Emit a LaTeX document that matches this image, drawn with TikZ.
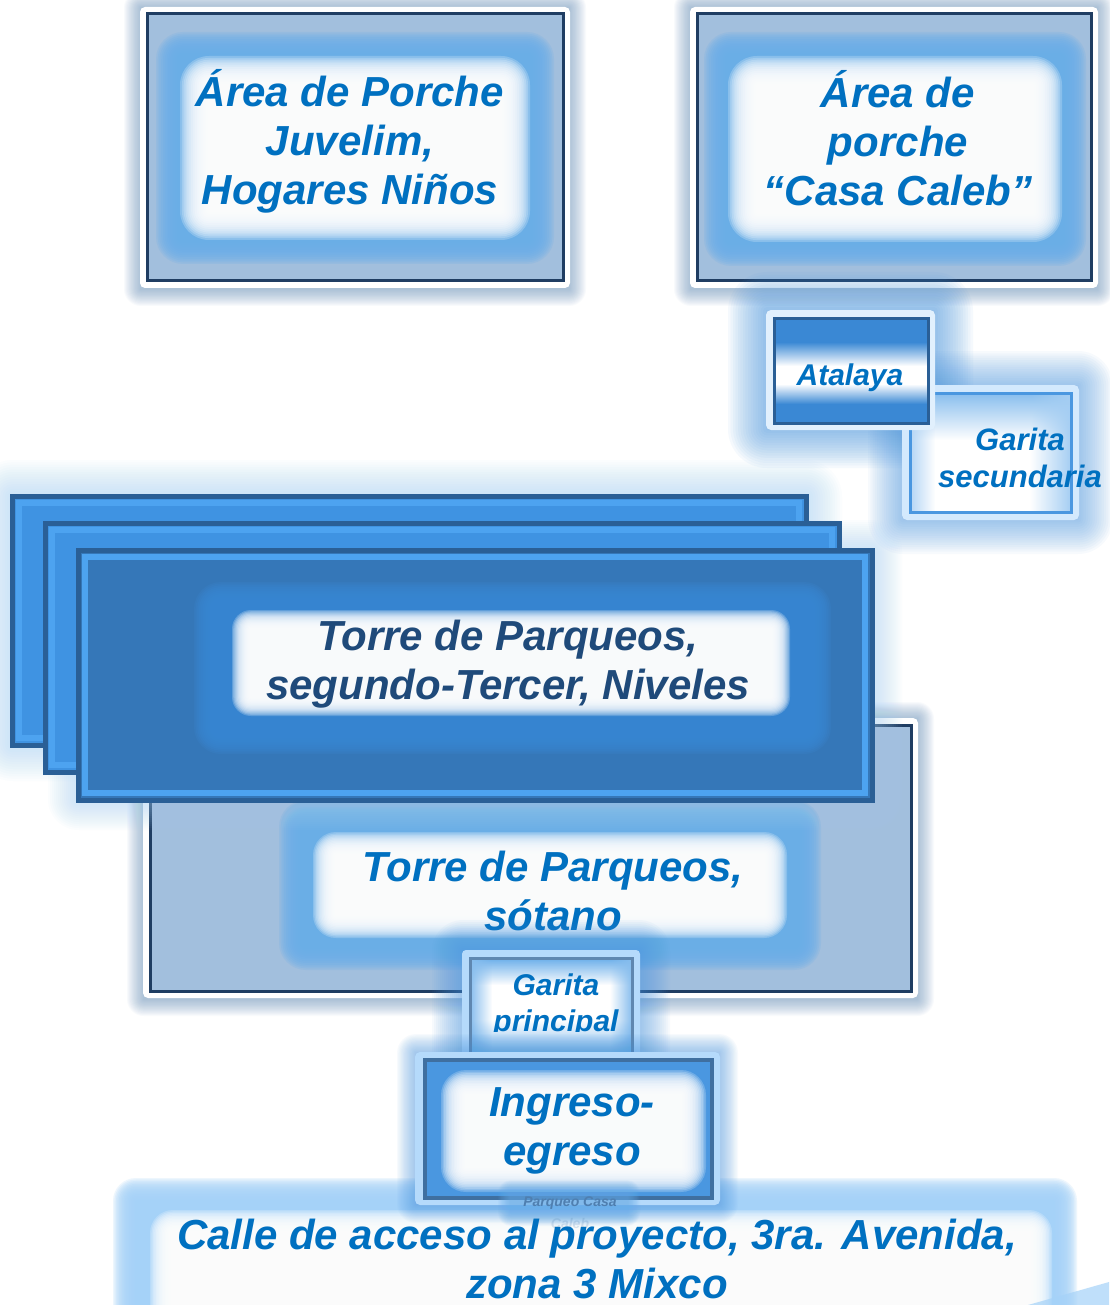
\documentclass[tikz,border=0pt]{standalone}
\usepackage{fontspec}
\setmainfont{Liberation Sans}
\usetikzlibrary{fadings}
\definecolor{txtblue}{HTML}{0070C0}
\definecolor{txtnavy}{HTML}{1F4A7A}
\definecolor{framedark}{HTML}{1F3D62}
\definecolor{steel}{HTML}{A2BFDD}
\definecolor{glowblue}{HTML}{6AAEEA}
\definecolor{midblue}{HTML}{3A88D4}
\definecolor{brightblue}{HTML}{3F93E2}
\definecolor{deepblue}{HTML}{3577B8}
\definecolor{edgeblue}{HTML}{2A5F96}
\definecolor{bevel}{HTML}{4DA3F0}
\definecolor{shadowblue}{HTML}{4F7FB0}
\definecolor{haloblue}{HTML}{4A97E0}
\definecolor{paleblue}{HTML}{A5D2F8}
\definecolor{lightframe}{HTML}{B5DAFB}
% soft rectangle: rings growing outwards from the given rectangle
\newcommand\softrect[7]{%
  \foreach \k in {1,...,16}{%
    \pgfmathsetmacro\dd{#6*(\k-1)/15}%
    \fill[#1, fill opacity=#7, rounded corners=\dd pt+1pt] ({#2-\dd},{#3-\dd}) rectangle ({#4+\dd},{#5+\dd});
  }%
}
% near-solid core with a soft edge
\newcommand\coreglow[6]{%
  \softrect{#1}{#2}{#3}{#4}{#5}{#6}{0.21}%
}
\begin{document}
\begin{tikzpicture}[x=1pt,y=-1pt,
  lbl/.style={font=\fontsize{42}{49}\selectfont\bfseries\itshape, text=txtblue, align=center, inner sep=0pt},
  slbl/.style={font=\fontsize{30}{36}\selectfont\bfseries\itshape, text=txtblue, align=center, inner sep=0pt},
  tiny/.style={font=\fontsize{14}{20}\selectfont\bfseries\itshape, text=shadowblue, align=center, inner sep=0pt}]
\useasboundingbox (0,0) rectangle (1109,1305);
\fill[white] (0,0) rectangle (1109,1305);

% ---------- Box A ----------
\softrect{shadowblue}{140}{7}{570}{290}{16}{0.035}
\fill[white, rounded corners=5] (140,7) rectangle (570,288);
\fill[steel] (147,14) rectangle (563,281);
\begin{scope}
  \clip (147,14) rectangle (563,281);
  \coreglow{glowblue}{182}{58}{528}{238}{26}
  \coreglow{white}{208}{84}{502}{212}{28}
\end{scope}
\draw[framedark, line width=3] (147,14) rectangle (563,281);
\node[lbl] (porcheA) at (350,141) {Área de Porche\\Juvelim,\\Hogares Niños};

% ---------- Box B ----------
\softrect{shadowblue}{690}{7}{1098}{290}{16}{0.035}
\fill[white, rounded corners=5] (690,7) rectangle (1098,288);
\fill[steel] (697,14) rectangle (1091,281);
\begin{scope}
  \clip (697,14) rectangle (1091,281);
  \coreglow{glowblue}{730}{58}{1060}{240}{26}
  \coreglow{white}{756}{84}{1034}{214}{28}
\end{scope}
\draw[framedark, line width=3] (697,14) rectangle (1091,281);
\node[lbl] (porcheB) at (898,138) {Área de\\porche\\“Casa Caleb”};

% ---------- Atalaya / Garita secundaria ----------
\softrect{haloblue}{902}{385}{1079}{520}{34}{0.045}
\softrect{haloblue}{766}{310}{935}{430}{38}{0.05}
\fill[lightframe!60!white, rounded corners=5] (902,385) rectangle (1079,520);
\fill[white] (910,393) rectangle (1071,512);
\begin{scope}
  \clip (910,393) rectangle (1071,512);
  \fill[glowblue!80!white, path fading=south] (910,393) rectangle (1071,440);
  \fill[glowblue!60!white, path fading=west] (1030,393) rectangle (1071,512);
  \fill[glowblue!50!white, path fading=east] (910,393) rectangle (935,512);
\end{scope}
\draw[haloblue, line width=3] (910,393) rectangle (1071,512);
\node[slbl, font=\fontsize{31}{37}\selectfont\bfseries\itshape] (garitasec) at (1020,458) {Garita\\secundaria};

\fill[lightframe!40!white, rounded corners=5] (766,310) rectangle (935,430);
\fill[midblue] (774,318) rectangle (928,423);
\shade[top color=midblue, bottom color=white] (774,342) rectangle (928,366);
\fill[white] (774,366) rectangle (928,384);
\shade[top color=white, bottom color=midblue] (774,384) rectangle (928,404);
\draw[edgeblue, line width=3] (774,318) rectangle (928,423);
\node[slbl] (atalaya) at (850,378) {Atalaya};

% ---------- Sotano ----------
\softrect{shadowblue}{143}{718}{918}{1000}{16}{0.035}
\fill[white, rounded corners=5] (143,718) rectangle (918,998);
\fill[steel] (150,725) rectangle (911,991);
\begin{scope}
  \clip (150,725) rectangle (911,991);
  \coreglow{glowblue}{305}{826}{795}{944}{26}
  \coreglow{white}{335}{854}{765}{916}{22}
\end{scope}
\draw[framedark, line width=3] (150,725) rectangle (911,991);
\node[lbl] (sotano) at (553,891) {Torre de Parqueos,\\sótano};

% ---------- Torre stack ----------
\softrect{paleblue}{12}{496}{806}{745}{36}{0.045}
\softrect{paleblue}{78}{550}{872}{800}{30}{0.04}
\foreach \x/\y in {12/496,45/523}{
  \fill[brightblue] (\x,\y) rectangle ({\x+794},{\y+249});
  \draw[bevel, line width=6] ({\x+7},{\y+7}) rectangle ({\x+787},{\y+242});
  \draw[edgeblue, line width=5] (\x,\y) rectangle ({\x+794},{\y+249});
}
\fill[deepblue] (78,550) rectangle (872,800);
\begin{scope}
  \clip (78,550) rectangle (872,800);
  \coreglow{midblue}{220}{608}{805}{728}{26}
  \coreglow{white}{250}{628}{772}{698}{18}
\end{scope}
\draw[bevel, line width=6] (85,557) rectangle (865,793);
\draw[edgeblue, line width=5] (78,550) rectangle (872,800);
\node[lbl, text=txtnavy] (torre) at (508,664) {Torre de Parqueos,\\segundo-Tercer, Niveles};

% ---------- Garita principal ----------
\softrect{haloblue}{462}{950}{640}{1052}{30}{0.045}
\fill[lightframe, rounded corners=4] (462,950) rectangle (640,1060);
\fill[white] (470,958) rectangle (632,1060);
\begin{scope}
  \clip (470,958) rectangle (632,1060);
  \fill[glowblue, path fading=south] (470,958) rectangle (632,985);
  \fill[glowblue!80!white, path fading=east] (470,958) rectangle (492,1060);
  \fill[glowblue!80!white, path fading=west] (610,958) rectangle (632,1060);
  \fill[glowblue, path fading=north] (470,1020) rectangle (632,1060);
\end{scope}
\draw[edgeblue!75!white, line width=3] (470,1060) -- (470,958) -- (632,958) -- (632,1060);
\begin{scope}
  \clip (462,940) rectangle (640,1031);
  \node[slbl] (garitapri) at (556,1006) {Garita\\principal};
\end{scope}

% ---------- Calle ----------
\softrect{paleblue}{135}{1200}{1055}{1345}{22}{0.2}
\coreglow{white}{172}{1232}{1030}{1345}{22}
\fill[paleblue, opacity=0.7] (1028,1305) -- (1109,1282) -- (1109,1305) -- cycle;

% ---------- Ingreso ----------
\softrect{haloblue}{415}{1052}{720}{1205}{18}{0.04}
\fill[lightframe, rounded corners=5] (415,1052) rectangle (720,1205);
\fill[haloblue] (425,1060) rectangle (712,1198);
\begin{scope}
  \clip (425,1060) rectangle (712,1198);
  \coreglow{white}{465}{1094}{682}{1168}{24}
\end{scope}
\draw[edgeblue!90!white, line width=4] (425,1060) rectangle (712,1198);
\node[lbl] (ingreso) at (572,1131) {Ingreso-\\egreso};

% ---------- Parqueo Casa Caleb ----------
\softrect{glowblue}{510}{1192}{628}{1214}{12}{0.06}
\node[tiny] (parqueo) at (570,1203) {Parqueo Casa};
\node[tiny, opacity=0.2] (caleb) at (570,1223) {Caleb};

\node[lbl] (calle) at (597,1259) {Calle de acceso al proyecto, 3ra. Avenida,\\zona 3 Mixco};
\end{tikzpicture}
\end{document}
